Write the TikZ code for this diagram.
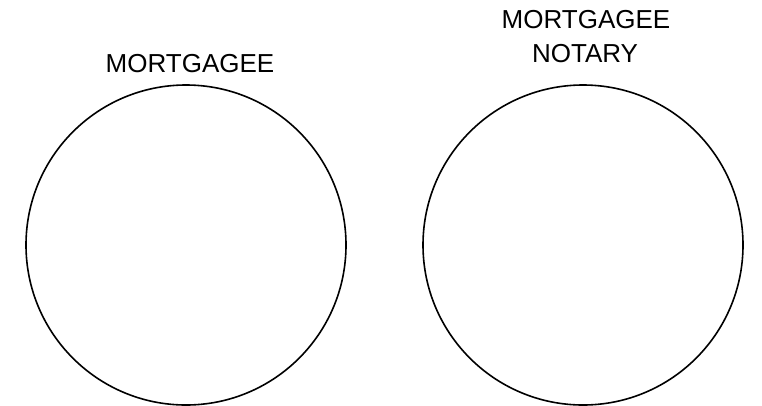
\documentclass[tikz,border=0pt]{standalone}
\usepackage{fontspec}
\setmainfont{Liberation Sans}
\usetikzlibrary{positioning}

\tikzset{
  seal/.style={draw, circle, line width=1.6pt, minimum size=320pt, inner sep=0pt},
  lbl/.style={anchor=base, font=\fontsize{26}{30}\selectfont}
}

\begin{document}
\begin{tikzpicture}[x=1pt, y=-1pt]
    % Frame
    \useasboundingbox (0,0) rectangle (762,405);

    % Seal circles
    \node[seal] (mortgagee) at (186,245) {};
    \node[seal] (notary) at (583,245) {};

    % Labels
    \node[lbl] (mortgageelbl) at (190,72) {MORTGAGEE};
    \node[lbl] (notarylbla) at (586,28) {MORTGAGEE};
    \node[lbl] (notarylblb) at (585,62) {NOTARY};
\end{tikzpicture}
\end{document}
